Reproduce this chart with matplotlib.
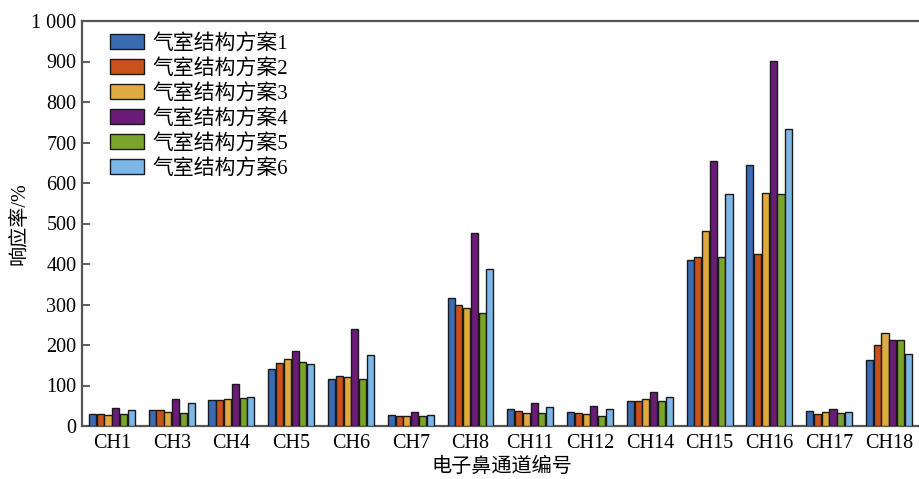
"""Grouped bar chart: response rate of e-nose channels for six gas-chamber designs."""

import matplotlib
matplotlib.use("Agg")
import matplotlib.pyplot as plt
import numpy as np

matplotlib.rcParams["font.family"] = ["Liberation Serif", "Noto Sans CJK SC"]

channels = ["CH1", "CH3", "CH4", "CH5", "CH6", "CH7", "CH8",
            "CH11", "CH12", "CH14", "CH15", "CH16", "CH17", "CH18"]

scheme1 = [30, 40, 63, 141, 117, 28, 317, 41, 34, 61, 409, 644, 37, 163]
scheme2 = [30, 40, 64, 156, 123, 24, 298, 37, 31, 61, 417, 425, 30, 201]
scheme3 = [26, 35, 66, 166, 120, 25, 291, 31, 30, 66, 482, 576, 35, 230]
scheme4 = [44, 66, 104, 184, 239, 34, 476, 57, 49, 83, 655, 901, 41, 212]
scheme5 = [29, 31, 70, 157, 116, 24, 279, 33, 24, 61, 417, 573, 33, 212]
scheme6 = [39, 57, 72, 152, 176, 27, 388, 46, 42, 71, 573, 733, 35, 179]

series = [scheme1, scheme2, scheme3, scheme4, scheme5, scheme6]
labels = ["气室结构方案1", "气室结构方案2", "气室结构方案3",
          "气室结构方案4", "气室结构方案5", "气室结构方案6"]
colors = ["#3A6BB3", "#C8521A", "#E0AA40", "#6A1C78", "#7BA52A", "#7DB7E8"]

yticks = [0, 100, 200, 300, 400, 500, 600, 700, 800, 900, 1000]
yticklabels = ["0", "100", "200", "300", "400", "500", "600", "700", "800", "900", "1 000"]

fig = plt.figure(figsize=(9.19, 4.79), dpi=100)
ax = fig.add_axes([82 / 919, 1 - 426 / 479, 1 - 82 / 919 + 0.003, 405 / 479])

x = np.arange(len(channels))
step = 0.13
for i, (vals, lab, col) in enumerate(zip(series, labels, colors)):
    ax.bar(x + (i - 2.5) * step, vals, width=0.118, color=col,
           edgecolor="#1a1a1a", linewidth=1.0, label=lab, zorder=3)

ax.set_xlim(-0.5, 13.55)
ax.set_ylim(0, 1000)
ax.set_xticks(x)
ax.set_xticklabels(channels)
ax.set_yticks(yticks)
ax.set_yticklabels(yticklabels)
ax.tick_params(axis="x", length=0, labelsize=14.5, pad=6)
ax.tick_params(axis="y", direction="in", length=6, width=1.2, color="#444444",
               labelsize=14.5, pad=4)

for side in ["left", "bottom", "top"]:
    ax.spines[side].set_color("#555555")
    ax.spines[side].set_linewidth(1.6)
ax.spines["right"].set_visible(False)

ax.set_xlabel("电子鼻通道编号", fontsize=14.5, labelpad=3)
ax.set_ylabel("响应率/%", fontsize=14.5, labelpad=1)

ax.legend(loc="upper left", bbox_to_anchor=(0.016, 1.004), frameon=False,
          fontsize=15, handlelength=1.63, handleheight=0.72, handletextpad=0.4,
          labelspacing=0.24, borderaxespad=0.3)

fig.savefig("out.png", dpi=100)
